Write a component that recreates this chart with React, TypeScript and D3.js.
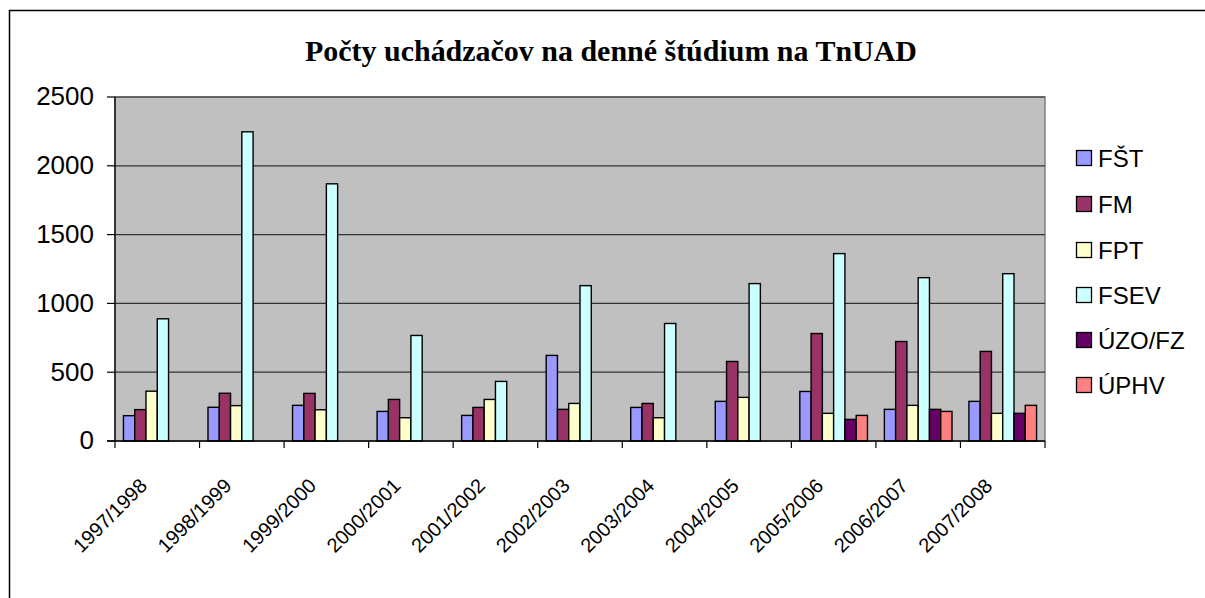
import React from "react";
import * as d3 from "d3";

const categories = ["1997/1998", "1998/1999", "1999/2000", "2000/2001", "2001/2002", "2002/2003", "2003/2004", "2004/2005", "2005/2006", "2006/2007", "2007/2008"];
const seriesNames = ["FŠT", "FM", "FPT", "FSEV", "ÚZO/FZ", "ÚPHV"];
const FST = [184, 245, 259, 215, 186, 622, 244, 288, 360, 230, 288];
const FM = [228, 347, 346, 302, 244, 230, 273, 578, 781, 723, 651];
const FPT = [362, 257, 227, 169, 302, 273, 169, 317, 201, 259, 201];
const FSEV = [888, 2247, 1869, 767, 433, 1129, 854, 1144, 1362, 1187, 1216];
const UZO: (number | null)[] = [null, null, null, null, null, null, null, null, 157, 230, 201];
const UPHV: (number | null)[] = [null, null, null, null, null, null, null, null, 186, 215, 259];
const seriesValues = [FST, FM, FPT, FSEV, UZO, UPHV];
const colors = ["#9999FF", "#993366", "#FFFFCC", "#CCFFFF", "#660066", "#FF8080"];
const yTicks = [0, 500, 1000, 1500, 2000, 2500];

export default function App() {
  const left = 115, right = 1045, top = 97, bottom = 441;
  const y = d3.scaleLinear().domain([0, 2500]).range([bottom, top]);
  const x0 = d3.scaleBand().domain(categories).range([left, right]).padding(0);
  const x1 = d3.scaleBand().domain(seriesNames).range([0, x0.bandwidth()]).paddingInner(0).paddingOuter(0.75);
  const arial = "Arial, 'Liberation Sans', sans-serif";
  const legendY = [158, 204, 250, 295, 340, 385];

  return (
    <div style={{ position: "fixed", left: 0, top: 0 }}>
      <svg width={1205} height={598} style={{ display: "block", background: "#fff" }}>
        <rect x={9.5} y={10.5} width={1400} height={800} fill="#fff" stroke="#000" strokeWidth={1.5} />
        <text x={611} y={61} textAnchor="middle" fontFamily="'Liberation Serif', 'Times New Roman', serif" fontWeight="bold" fontSize={29} textLength={612} lengthAdjust="spacingAndGlyphs">Počty uchádzačov na denné štúdium na TnUAD</text>
        <rect x={left} y={top} width={right - left} height={bottom - top} fill="#C0C0C0" stroke="#808080" strokeWidth={1.5} />
        {yTicks.filter((t) => t > 0).map((t) => (
          <line key={"g" + t} x1={left} x2={right} y1={y(t)} y2={y(t)} stroke="#333" strokeWidth={1.2} />
        ))}
        {categories.map((c, ci) => (
          <g key={c}>
            {seriesValues.map((vals, si) => {
              const v = vals[ci];
              if (v == null) return null;
              const bx = (x0(c) as number) + (x1(seriesNames[si]) as number);
              return (
                <rect key={si} x={bx} y={y(v)} width={x1.bandwidth()} height={y(0) - y(v)} fill={colors[si]} stroke="#000" strokeWidth={1.4} />
              );
            })}
          </g>
        ))}
        <line x1={left} x2={left} y1={top} y2={bottom} stroke="#000" strokeWidth={1.3} />
        <line x1={left - 8} x2={right} y1={bottom} y2={bottom} stroke="#000" strokeWidth={1.3} />
        {yTicks.map((t) => (
          <g key={"y" + t}>
            <line x1={left - 8} x2={left} y1={y(t)} y2={y(t)} stroke="#000" strokeWidth={1.2} />
            <text x={94} y={y(t) - 1} dy="0.36em" textAnchor="end" fontFamily={arial} fontSize={26}>{t}</text>
          </g>
        ))}
        {categories.map((c, i) => (
          <line key={"xt" + i} x1={(x0(c) as number)} x2={(x0(c) as number)} y1={bottom} y2={bottom + 7} stroke="#000" strokeWidth={1.2} />
        ))}
        <line x1={right} x2={right} y1={bottom} y2={bottom + 7} stroke="#000" strokeWidth={1.2} />
        {categories.map((c) => {
          const cx = (x0(c) as number) + x0.bandwidth() / 2 - 9;
          const cy = 487;
          return (
            <text key={"xl" + c} x={cx} y={cy} textAnchor="end" fontFamily={arial} fontSize={20} transform={`rotate(-45 ${cx} ${cy})`}>{c}</text>
          );
        })}
        {seriesNames.map((s, i) => (
          <g key={"lg" + s}>
            <rect x={1076.5} y={legendY[i] - 7.5} width={15} height={15} fill={colors[i]} stroke="#000" strokeWidth={1.3} />
            <text x={1098} y={legendY[i]} dy="0.36em" fontFamily={arial} fontSize={24}>{s}</text>
          </g>
        ))}
      </svg>
    </div>
  );
}
